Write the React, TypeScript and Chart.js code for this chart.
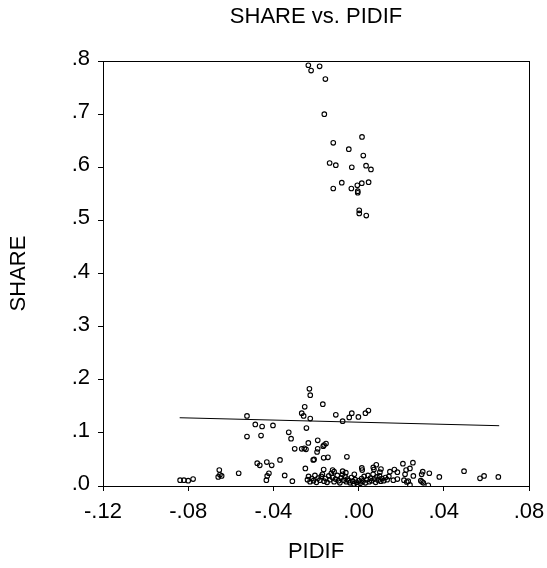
import { useEffect, useRef } from "react";
import { Chart, registerables } from "chart.js";
Chart.register(...registerables);

const pidif = [
  -0.0236, -0.0223, -0.0183, -0.0156, -0.0161, -0.0119, 0.0016, -0.0046, 0.0022, -0.0136, -0.0107, -0.0032, 0.0035,
  0.0058, -0.0079, -0.0119, -0.0034, -0.0006, 0.0015, 0.0047, -0.0004, -0.0004, 0.0003, 0.0003, 0.0036,
  -0.0231, -0.0227, -0.0168, -0.0253, -0.0267, -0.0258, -0.0227, -0.0107, -0.0075, -0.0044, -0.0032, -0.0001, 0.0032, 0.0046,
  -0.0524, -0.0485, -0.0453, -0.0402, -0.0524, -0.0458, -0.0328, -0.0245, -0.0317,
  -0.03, -0.0267, -0.0255, -0.0247, -0.0236, -0.0192, -0.0192, -0.0195, -0.0162, -0.0153, -0.0166, -0.0209, -0.0164, -0.0144, -0.0055,
  -0.0476, -0.0464, -0.0431, -0.0408, -0.0369, -0.0213,
  -0.0838, -0.082, -0.08, -0.0777, -0.0654, -0.0659, -0.0651, -0.0643, -0.0563, -0.0421, -0.0429, -0.0433, -0.0347, -0.0311, -0.025, -0.0164, -0.0122, -0.0115,
  0.0083, 0.0069, 0.0072, 0.0015, 0.0017, 0.0147, 0.0168, 0.0182, 0.0163, 0.0182,
  0.0208, 0.0255, 0.0241, 0.0223, 0.0218, 0.0257, 0.0301, 0.0296, 0.0332, 0.0379, 0.0213, 0.0226, 0.0233, 0.0241, 0.0298, 0.0304, 0.0292, 0.0327,
  0.0495, 0.057, 0.0589, 0.0656,
  -0.024, -0.0235, -0.0228, -0.022, -0.0212, -0.0205, -0.0198, -0.019, -0.0182, -0.0175, -0.017, -0.0162, -0.0155, -0.0148, -0.014, -0.0135,
  -0.0128, -0.0122, -0.0115, -0.0108, -0.01, -0.0094, -0.0088, -0.0082, -0.0076, -0.007, -0.0064, -0.0058, -0.0052, -0.0046, -0.004, -0.0034,
  -0.0028, -0.0022, -0.0016, -0.001, -0.0004, 0.0002, 0.0008, 0.0014, 0.002, 0.0026, 0.0032, 0.0038, 0.0044, 0.005, 0.0056, 0.0062,
  0.0068, 0.0074, 0.008, 0.0086, 0.0092, 0.0098, 0.0104, 0.011, 0.0118, 0.0126, 0.0134, 0.0142, -0.0075, -0.006, 0.01, 0.0105, -0.002,
];
const share = [
  0.792, 0.782, 0.79, 0.766, 0.7, 0.646, 0.657, 0.634, 0.622, 0.608, 0.604, 0.6, 0.603,
  0.596, 0.571, 0.56, 0.56, 0.566, 0.57, 0.572, 0.552, 0.555, 0.519, 0.513, 0.509,
  0.183, 0.171, 0.154, 0.149, 0.137, 0.132, 0.127, 0.134, 0.122, 0.129, 0.137, 0.13, 0.137, 0.142,
  0.132, 0.116, 0.112, 0.114, 0.093, 0.095, 0.101, 0.109, 0.089,
  0.07, 0.07, 0.071, 0.069, 0.081, 0.086, 0.07, 0.064, 0.077, 0.08, 0.075, 0.05, 0.053, 0.054, 0.055,
  0.043, 0.039, 0.045, 0.039, 0.049, 0.049,
  0.011, 0.011, 0.01, 0.013, 0.03, 0.017, 0.021, 0.019, 0.024, 0.024, 0.019, 0.011, 0.02, 0.009, 0.033, 0.031, 0.03, 0.027,
  0.04, 0.035, 0.031, 0.034, 0.03, 0.027, 0.031, 0.026, 0.011, 0.013,
  0.042, 0.044, 0.033, 0.03, 0.022, 0.019, 0.027, 0.022, 0.024, 0.017, 0.011, 0.0075, 0.009, 0.002, 0.008, 0.006, 0.01, 0.0013,
  0.028, 0.0145, 0.019, 0.017,
  0.012, 0.018, 0.008, 0.014, 0.01, 0.02, 0.007, 0.015, 0.011, 0.018, 0.022, 0.009, 0.014, 0.007, 0.019, 0.012,
  0.024, 0.016, 0.008, 0.013, 0.02, 0.01, 0.006, 0.015, 0.022, 0.011, 0.018, 0.008, 0.013, 0.01, 0.006, 0.016,
  0.009, 0.004, 0.012, 0.007, 0.003, 0.01, 0.005, 0.014, 0.009, 0.018, 0.006, 0.012, 0.02, 0.008, 0.015, 0.01,
  0.022, 0.013, 0.007, 0.017, 0.011, 0.019, 0.009, 0.014, 0.01, 0.016, 0.012, 0.018, 0.028, 0.025, 0.026, 0.032, 0.022,
];

// Fitted regression line endpoints
const fitPidif = [-0.084, 0.066];
const fitShare = [0.1285, 0.1135];

const xTickValues = [-0.12, -0.08, -0.04, 0, 0.04, 0.08];
const xTickLabels = ["-.12", "-.08", "-.04", ".00", ".04", ".08"];
const yTickValues = [0, 0.1, 0.2, 0.3, 0.4, 0.5, 0.6, 0.7, 0.8];
const yTickLabels = [".0", ".1", ".2", ".3", ".4", ".5", ".6", ".7", ".8"];

const FONT = "'Liberation Sans', Arial, Helvetica, sans-serif";
const FS = 22;

const framePlugin = {
  id: "frame",
  afterDraw(chart: any) {
    const { ctx, chartArea } = chart;
    const l = Math.round(chartArea.left) + 0.5;
    const t = Math.round(chartArea.top) + 0.5;
    const r = Math.round(chartArea.right) + 0.5;
    const b = Math.round(chartArea.bottom) + 0.5;
    ctx.save();
    ctx.strokeStyle = "#000";
    ctx.lineWidth = 1;
    ctx.strokeRect(l, t, r - l, b - t);
    ctx.restore();
  },
};

export default function App() {
  const ref = useRef<HTMLCanvasElement | null>(null);
  useEffect(() => {
    if (!ref.current) return;
    const points = pidif.map((x, i) => ({ x, y: share[i] }));
    const fit = fitPidif.map((x, i) => ({ x, y: fitShare[i] }));
    const chart = new Chart(ref.current, {
      type: "scatter",
      data: {
        datasets: [
          {
            data: points,
            showLine: false,
            pointRadius: 2.3,
            pointBorderWidth: 1.1,
            pointBorderColor: "#000",
            pointBackgroundColor: "rgba(0,0,0,0)",
          },
          {
            type: "line",
            data: fit,
            borderColor: "#000",
            borderWidth: 1,
            pointRadius: 0,
            fill: false,
          } as any,
        ],
      },
      options: {
        animation: false,
        responsive: false,
        layout: { padding: { left: 0, right: 18, top: 0, bottom: 0 } },
        plugins: {
          legend: { display: false },
          tooltip: { enabled: false },
          title: {
            display: true,
            fullSize: false,
            text: "SHARE vs. PIDIF",
            color: "#000",
            font: { family: FONT, size: FS, weight: "normal" },
            padding: { top: 4, bottom: 30.6 },
          },
        },
        scales: {
          x: {
            type: "linear",
            min: -0.12,
            max: 0.08,
            afterBuildTicks: (scale: any) => {
              scale.ticks = xTickValues.map((v) => ({ value: v }));
            },
            afterFit: (scale: any) => {
              scale.height = 82;
              scale.paddingLeft = 0;
              scale.paddingRight = 0;
            },
            ticks: {
              color: "#000",
              font: { family: FONT, size: FS },
              padding: 8,
              maxRotation: 0,
              autoSkip: false,
              callback: (_v: any, i: number) => xTickLabels[i],
            },
            grid: { drawOnChartArea: false, drawTicks: true, tickLength: 5, color: "#000" },
            border: { display: true, color: "#000", width: 1 },
            title: {
              display: true,
              text: "PIDIF",
              color: "#000",
              font: { family: FONT, size: FS },
              padding: { top: 0, bottom: 2.5 },
            },
          },
          y: {
            type: "linear",
            min: 0,
            max: 0.8,
            afterBuildTicks: (scale: any) => {
              scale.ticks = yTickValues.map((v) => ({ value: v }));
            },
            afterFit: (scale: any) => {
              scale.width = 103;
              scale.paddingTop = 0;
              scale.paddingBottom = 0;
            },
            ticks: {
              color: "#000",
              font: { family: FONT, size: FS },
              padding: 8,
              labelOffset: -2,
              autoSkip: false,
              callback: (_v: any, i: number) => yTickLabels[i],
            },
            grid: { drawOnChartArea: false, drawTicks: true, tickLength: 5, color: "#000" },
            border: { display: true, color: "#000", width: 1 },
            title: {
              display: true,
              text: "SHARE",
              color: "#000",
              font: { family: FONT, size: FS },
              padding: { top: 5.8, bottom: 0 },
            },
          },
        },
      },
      plugins: [framePlugin],
    });
    return () => chart.destroy();
  }, []);
  return (
    <div style={{ position: "absolute", left: 0, top: 0, width: 547, height: 568, background: "#fff" }}>
      <canvas ref={ref} width={547} height={568} style={{ display: "block" }} />
    </div>
  );
}
